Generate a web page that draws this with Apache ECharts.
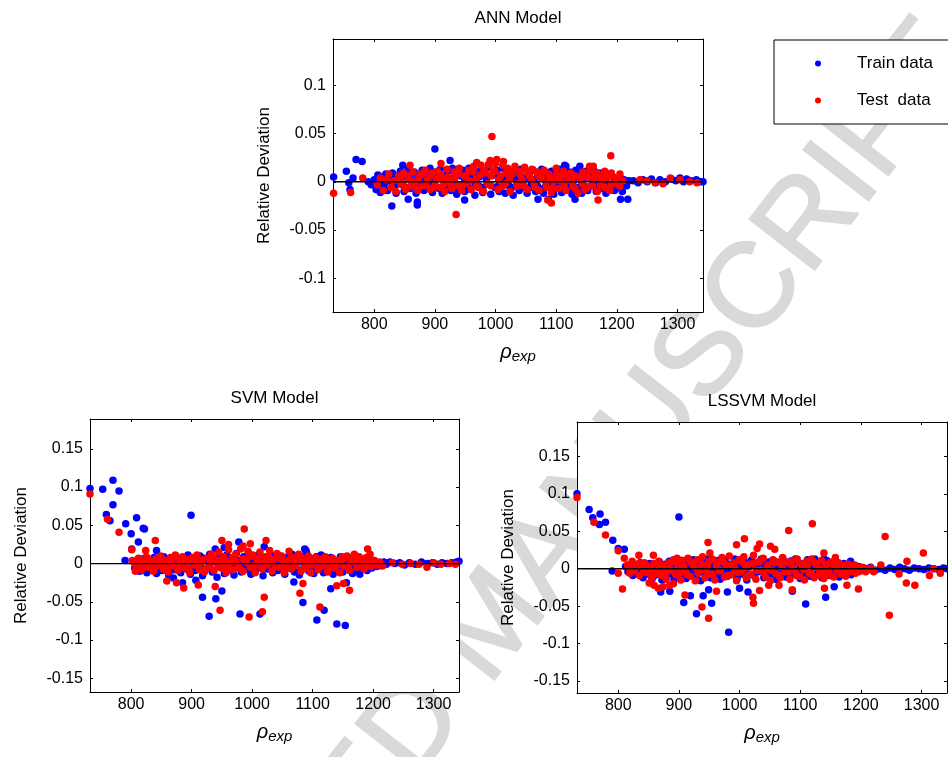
<!DOCTYPE html>
<html><head><meta charset="utf-8">
<script src="https://cdn.jsdelivr.net/npm/echarts@6/dist/echarts.min.js"></script>
<style>html,body{margin:0;padding:0;background:#fff}#c{width:948px;height:757px}</style>
</head><body><div id="c"></div><script>
// ---- data ----
const xTicks=[800,900,1000,1100,1200,1300];
const xRange=[732,1342];
const annYTicks=[-0.1,-0.05,0,0.05,0.1];
const annYRange=[-0.135,0.148];
const svmYTicks=[-0.15,-0.1,-0.05,0,0.05,0.1,0.15];
const svmYRange=[-0.168,0.189];
const lssvmYTicks=[-0.15,-0.1,-0.05,0,0.05,0.1,0.15];
const lssvmYRange=[-0.166,0.196];
const panelTitles=['ANN Model','SVM Model','LSSVM Model'];
const seriesNames=['Train data','Test  data'];

const annTrain=[[733,0.005],[754,0.011],[758,-0.001],[760,-0.008],[765,0.004],[770,0.023],[780,0.021],[790,0],[795,-0.003],[829,-0.025],[847,0.017],[856,-0.018],[871,-0.021],[871,-0.024],[900,0.034],[925,0.022],[949,-0.019],[1070,-0.018],[1087,-0.018],[1114,0.017],[1131,-0.018],[1139,0.016],[1206,-0.018],[1218,-0.018],
[800,0.002],[803,-0.008],[806,0.007],[810,-0.011],[812,0.003],[816,-0.004],[819,0.008],[822,-0.009],[826,0.001],[830,0.009],[833,-0.006],[836,-0.012],[840,0.004],[843,0.011],[846,-0.003],[849,-0.01],[853,0.006],[856,0.013],[859,-0.007],[862,0.001],[866,0.01],[869,-0.012],[872,0.004],[876,-0.005],[879,0.012],[882,-0.009],[886,0.007],[889,-0.002],[892,0.014],[896,-0.011],[899,0.003],[902,0.01],[906,-0.006],[909,0.013],[912,-0.012],[916,0.005],[919,-0.003],[922,0.011],[926,-0.009],[929,0.014],[932,0.001],[936,-0.013],[939,0.008],[942,-0.005],[946,0.012],[949,-0.01],[952,0.004],[956,0.014],[959,-0.008],[962,0.002],[966,-0.014],[969,0.01],[972,-0.004],[976,0.013],[979,-0.011],[982,0.006],[986,-0.002],[989,0.015],[992,-0.013],[996,0.008],[999,-0.006],[1002,0.012],[1006,-0.01],[1009,0.003],[1012,0.014],[1016,-0.012],[1019,0.006],[1022,-0.004],[1026,0.011],[1029,-0.014],[1032,0.009],[1036,0.001],[1039,-0.009],[1042,0.013],[1046,-0.006],[1049,0.004],[1052,-0.012],[1056,0.01],[1059,-0.002],[1062,0.012],[1066,-0.01],[1069,0.005],[1072,-0.007],[1076,0.013],[1079,-0.012],[1082,0.002],[1086,0.009],[1089,-0.005],[1092,0.011],[1096,-0.013],[1099,0.006],[1102,-0.003],[1106,0.013],[1109,-0.011],[1112,0.004],[1116,0.016],[1119,-0.008],[1122,0.01],[1126,-0.013],[1129,0.001],[1132,0.012],[1136,-0.006],[1139,0.008],[1142,-0.012],[1146,0.003],[1149,0.011],[1152,-0.009],[1156,0.006],[1159,-0.004],[1162,0.012],[1166,-0.01],[1169,0.002],[1172,0.009],[1176,-0.007],[1179,0.005],[1182,-0.012],[1186,0.008],[1189,-0.003],[1192,0.006],[1196,-0.009],[1199,0.003],[1202,-0.006],[1206,0.004],[1209,-0.01],[1212,0.002],[1216,-0.004],[1220,0.001],
[805,-0.004],[811,0.005],[817,-0.001],[823,0.004],[829,-0.005],[835,0.006],[841,-0.002],[847,0.005],[853,-0.006],[859,0.004],[865,-0.003],[871,0.007],[877,0.001],[883,-0.005],[889,0.006],[895,-0.003],[901,0.005],[907,-0.007],[913,0.002],[919,0.007],[925,-0.004],[931,0.004],[937,-0.006],[943,0.006],[949,0.001],[955,-0.005],[961,0.007],[967,-0.002],[973,0.005],[979,-0.006],[985,0.003],[991,-0.003],[997,0.007],[1003,-0.005],[1009,0.005],[1015,-0.001],[1021,0.006],[1027,-0.006],[1033,0.003],[1039,0.007],[1045,-0.003],[1051,0.005],[1057,-0.006],[1063,0.002],[1069,-0.004],[1075,0.006],[1081,-0.006],[1087,0.004],[1093,-0.002],[1099,0.007],[1105,-0.005],[1111,0.003],[1117,-0.004],[1123,0.006],[1129,-0.006],[1135,0.004],[1141,0.001],[1147,-0.005],[1153,0.006],[1159,0.002],[1165,-0.004],[1171,0.005],[1177,-0.002],[1183,0.003],[1189,-0.005],[1195,0.004],[1201,-0.002],[1207,0.003],[1213,-0.002],
[1227,0.001],[1235,-0.001],[1243,0.002],[1250,0],[1257,0.003],[1264,-0.001],[1271,0.002],[1280,0],[1290,0.003],[1297,0.001],[1304,0.004],[1310,0],[1315,0.003],[1322,0.001],[1331,0.002],[1338,0],[1342,0]];

const annTest=[[733,-0.012],[761,-0.011],[781,0.004],[859,0.017],[910,0.019],[935,-0.034],[969,0.02],[991,0.022],[994,0.047],[1002,0.023],[1013,0.021],[1086,-0.019],[1092,-0.022],[1155,0.016],[1161,0.016],[1169,-0.019],[1180,0.011],[1190,0.027],[1191,0.009],[1205,0.008],
[805,-0.003],[810,0.004],[815,-0.009],[820,0.002],[824,0.008],[828,-0.006],[832,0.001],[836,-0.01],[840,0.006],[844,-0.002],[848,0.009],[852,-0.008],[856,0.003],[860,-0.005],[864,0.01],[868,-0.001],[872,-0.009],[876,0.007],[880,-0.004],[884,0.012],[888,0.002],[892,-0.008],[896,0.009],[900,-0.003],[904,0.011],[908,-0.006],[912,0.004],[916,-0.01],[920,0.013],[924,0.001],[928,-0.007],[932,0.01],[936,-0.004],[940,0.014],[944,-0.009],[948,0.006],[952,-0.002],[956,0.012],[960,-0.008],[964,0.016],[968,0.003],[972,-0.006],[976,0.017],[980,-0.01],[984,0.009],[988,0.018],[992,-0.004],[996,0.012],[1000,0.019],[1004,-0.008],[1008,0.006],[1012,0.017],[1016,-0.002],[1020,0.014],[1024,-0.01],[1028,0.008],[1032,0.016],[1036,-0.005],[1040,0.011],[1044,0.002],[1048,0.015],[1052,-0.008],[1056,0.006],[1060,0.013],[1064,-0.003],[1068,0.01],[1072,-0.009],[1076,0.004],[1080,0.012],[1084,-0.006],[1088,0.008],[1092,-0.011],[1096,0.001],[1100,0.014],[1104,-0.007],[1108,0.005],[1112,0.011],[1116,-0.009],[1120,0.002],[1124,0.009],[1128,-0.005],[1132,0.006],[1136,-0.012],[1140,0.003],[1144,0.01],[1148,-0.008],[1152,0.005],[1156,0.012],[1160,-0.004],[1164,0.008],[1168,-0.01],[1172,0.002],[1176,0.007],[1180,-0.006],[1184,0.004],[1188,-0.009],[1192,0.006],[1196,-0.002],[1200,0.003],[1205,-0.005],[1210,0.001],
[843,0.003],[849,-0.004],[855,0.006],[861,0.001],[867,-0.005],[873,0.004],[879,0.008],[885,-0.003],[891,0.005],[897,-0.006],[903,0.003],[909,0.008],[915,-0.002],[921,0.005],[927,-0.005],[933,0.004],[939,0.009],[945,-0.003],[951,0.006],[957,0.001],[963,0.01],[969,-0.004],[975,0.007],[981,0.012],[987,-0.002],[993,0.006],[999,0.011],[1005,0.002],[1011,-0.005],[1017,0.009],[1023,0.003],[1029,0.011],[1035,-0.002],[1041,0.007],[1047,-0.004],[1053,0.009],[1059,0.003],[1065,-0.006],[1071,0.006],[1077,0.01],[1083,-0.002],[1089,0.004],[1095,-0.006],[1101,0.007],[1107,0.001],[1113,-0.004],[1119,0.006],[1125,0.001],[1131,-0.007],[1137,0.005],[1143,-0.002],[1149,0.006],[1155,-0.005],[1161,0.004],[1167,0.009],[1173,-0.003],[1179,0.003],[1185,0.007],[1191,-0.003],[1197,0.004],
[1238,0.002],[1250,0.001],[1263,-0.001],[1276,-0.002],[1288,0.004],[1304,0.002],[1320,0],[1332,-0.001]];

const svmTrain=[[732,0.098],[753,0.097],[770,0.109],[780,0.095],[759,0.064],[770,0.077],[765,0.056],[791,0.052],[800,0.039],[809,0.06],[812,0.028],[820,0.046],[822,0.045],[801,0.019],[790,0.004],[899,0.063],[918,-0.044],[929,-0.069],[940,-0.046],[950,-0.036],[980,-0.066],[1013,-0.066],[1084,-0.051],[1107,-0.074],[1119,-0.061],[1140,-0.079],[1154,-0.081],[1130,-0.033],[1069,-0.024],[907,-0.022],[885,-0.025],[870,-0.019],[978,0.028],[1020,0.022],[1087,0.019],[1089,0.017],[939,0.019],[954,0.021],[914,0.01],[842,0.017],[1156,-0.025],[1178,-0.014],
[806,-0.006],[810,0.003],[814,-0.01],[818,0.006],[822,-0.002],[826,-0.012],[830,0.004],[834,-0.007],[838,0.008],[842,-0.013],[846,0.001],[850,-0.009],[854,0.009],[858,-0.004],[862,-0.015],[866,0.005],[870,-0.008],[874,0.01],[878,-0.002],[882,-0.012],[886,0.006],[890,-0.006],[894,0.011],[898,-0.014],[902,0.002],[906,-0.009],[910,0.008],[914,-0.003],[918,-0.016],[922,0.007],[926,-0.006],[930,0.012],[934,-0.011],[938,0.003],[942,-0.018],[946,0.009],[950,-0.004],[954,-0.013],[958,0.011],[962,-0.008],[966,0.004],[970,-0.015],[974,0.013],[978,-0.002],[982,-0.011],[986,0.009],[990,-0.006],[994,0.014],[998,-0.014],[1002,0.003],[1006,-0.009],[1010,0.011],[1014,-0.003],[1018,-0.016],[1022,0.007],[1026,-0.007],[1030,0.012],[1034,-0.012],[1038,0.002],[1042,-0.009],[1046,0.01],[1050,-0.004],[1054,-0.014],[1058,0.008],[1062,-0.006],[1066,0.012],[1070,-0.011],[1074,0.004],[1078,-0.015],[1082,0.009],[1086,-0.002],[1090,0.014],[1094,-0.01],[1098,0.005],[1102,-0.013],[1106,0.009],[1110,-0.005],[1114,0.011],[1118,-0.012],[1122,0.003],[1126,-0.008],[1130,0.008],[1134,-0.014],[1138,0.002],[1142,-0.007],[1146,0.009],[1150,-0.011],[1154,0.004],[1158,-0.005],[1162,0.007],[1166,-0.013],[1170,0.002],[1174,-0.008],[1178,0.006],[1182,-0.004],[1186,0.005],[1190,-0.009],[1194,0.002],[1198,-0.006],[1202,0.004],[1206,-0.004],[1210,0.001],[1214,-0.003],[1218,0.002],[1222,-0.001],
[810,-0.003],[816,0.002],[822,-0.007],[828,0.003],[834,-0.002],[840,0.004],[846,-0.006],[852,0.002],[858,-0.009],[864,0.004],[870,-0.003],[876,0.003],[882,-0.006],[888,0.001],[894,-0.008],[900,0.005],[906,-0.003],[912,0.002],[918,-0.007],[924,0.004],[930,-0.002],[936,-0.009],[942,0.005],[948,-0.005],[954,0.003],[960,-0.008],[966,0.006],[972,-0.002],[978,0.004],[984,-0.006],[990,0.003],[996,-0.009],[1002,0.006],[1008,-0.003],[1014,0.004],[1020,-0.007],[1026,0.002],[1032,-0.004],[1038,0.006],[1044,-0.008],[1050,0.003],[1056,-0.002],[1062,0.005],[1068,-0.006],[1074,0.002],[1080,-0.009],[1086,0.004],[1092,-0.003],[1098,0.006],[1104,-0.007],[1110,0.002],[1116,-0.004],[1122,0.006],[1128,-0.008],[1134,0.003],[1140,-0.002],[1146,0.004],[1152,-0.006],[1158,0.002],[1164,-0.004],[1170,0.005],[1176,-0.005],[1182,0.002],[1188,-0.003],[1194,0.004],[1200,-0.002],[1206,0.001],[1212,-0.002],
[1228,0.002],[1236,0],[1244,0.001],[1252,-0.002],[1260,0.001],[1270,-0.001],[1280,0.002],[1290,0],[1298,0.001],[1306,-0.001],[1314,0.001],[1322,0],[1330,0.001],[1338,0.002],[1342,0.003]];

const svmTest=[[732,0.091],[761,0.058],[780,0.041],[801,0.018],[807,-0.01],[824,0.017],[840,0.03],[859,-0.023],[875,-0.025],[887,-0.032],[911,-0.028],[939,-0.03],[947,-0.061],[995,-0.07],[1017,-0.063],[1020,-0.044],[1079,-0.039],[1084,-0.026],[1112,-0.057],[1140,-0.029],[1151,-0.026],[1161,-0.035],[987,0.045],[950,0.03],[997,0.026],[1023,0.03],[961,0.025],[985,0.023],[1191,0.019],[1195,0.012],
[802,0.004],[808,-0.004],[812,0.007],[817,-0.008],[821,0.002],[825,0.009],[829,-0.005],[833,0.003],[837,-0.01],[841,0.006],[845,-0.002],[849,0.01],[853,-0.007],[857,0.004],[861,-0.011],[865,0.008],[869,-0.003],[873,0.011],[877,-0.009],[881,0.002],[885,0.009],[889,-0.006],[893,0.005],[897,-0.012],[901,0.008],[905,-0.002],[909,0.011],[913,-0.008],[917,0.004],[921,-0.011],[925,0.007],[929,-0.004],[933,0.012],[937,-0.009],[941,0.003],[945,0.015],[949,-0.006],[953,0.009],[957,-0.012],[961,0.018],[965,0.002],[969,-0.008],[973,0.012],[977,-0.003],[981,0.019],[985,-0.01],[989,0.006],[993,0.016],[997,-0.005],[1001,0.011],[1005,-0.012],[1009,0.004],[1013,0.015],[1017,-0.007],[1021,0.009],[1025,-0.002],[1029,0.017],[1033,-0.01],[1037,0.006],[1041,0.013],[1045,-0.005],[1049,0.01],[1053,-0.012],[1057,0.003],[1061,0.016],[1065,-0.007],[1069,0.008],[1073,-0.003],[1077,0.012],[1081,-0.01],[1085,0.005],[1089,-0.006],[1093,0.01],[1097,-0.012],[1101,0.003],[1105,0.008],[1109,-0.008],[1113,0.005],[1117,-0.003],[1121,0.009],[1125,-0.011],[1129,0.002],[1133,0.007],[1137,-0.006],[1141,0.004],[1145,-0.012],[1149,0.009],[1153,-0.004],[1157,0.01],[1161,-0.009],[1165,0.006],[1169,0.012],[1173,-0.005],[1177,0.009],[1181,0.003],[1185,-0.007],[1189,0.008],[1193,0.001],[1197,-0.004],[1201,0.004],[1206,-0.002],[1211,0.002],[1216,-0.003],
[805,0.001],[811,-0.002],[817,0.004],[823,-0.005],[829,0.006],[835,0.001],[841,-0.004],[847,0.005],[853,0.001],[859,-0.005],[865,0.003],[871,0.007],[877,-0.003],[883,0.005],[889,0.001],[895,-0.006],[901,0.004],[907,0.007],[913,-0.002],[919,0.005],[925,-0.006],[931,0.003],[937,0.008],[943,-0.004],[949,0.005],[955,0.001],[961,-0.005],[967,0.008],[973,0.003],[979,-0.006],[985,0.006],[991,0.001],[997,0.009],[1003,-0.003],[1009,0.006],[1015,-0.005],[1021,0.004],[1027,0.009],[1033,0.001],[1039,-0.004],[1045,0.007],[1051,0.002],[1057,-0.006],[1063,0.006],[1069,-0.002],[1075,0.004],[1081,0.008],[1087,-0.004],[1093,0.003],[1099,-0.002],[1105,0.006],[1111,-0.005],[1117,0.004],[1123,0.001],[1129,-0.006],[1135,0.005],[1141,-0.002],[1147,0.003],[1153,0.007],[1159,-0.003],[1165,0.002],[1171,0.006],[1177,-0.002],[1183,0.005],[1189,-0.003],[1195,0.004],[1203,0.001],[1209,-0.001],
[1232,0.001],[1248,-0.001],[1262,0],[1276,-0.001],[1289,-0.005],[1300,0.001],[1312,-0.001],[1326,0],[1336,-0.001]];

const lssvmTrain=[[732,0.1],[752,0.079],[758,0.068],[770,0.073],[769,0.059],[779,0.062],[791,0.038],[800,0.027],[810,0.026],[790,-0.003],[900,0.069],[908,-0.045],[919,-0.036],[929,-0.06],[940,-0.036],[949,-0.028],[954,-0.046],[982,-0.085],[980,-0.031],[1000,-0.026],[1014,-0.031],[1109,-0.047],[1142,-0.038],[1156,-0.024],[885,-0.03],[870,-0.031],[857,-0.01],[841,-0.012],[1087,-0.03],[1183,0.01],[1139,0.013],
[812,0.003],[816,-0.004],[820,0.006],[824,-0.009],[828,0.002],[832,-0.005],[836,0.008],[840,-0.011],[844,0.001],[848,-0.007],[852,0.007],[856,-0.013],[860,0.003],[864,-0.006],[868,0.009],[872,-0.015],[876,0.002],[880,-0.009],[884,0.01],[888,-0.004],[892,-0.014],[896,0.006],[900,-0.008],[904,0.011],[908,-0.002],[912,-0.013],[916,0.008],[920,-0.006],[924,0.012],[928,-0.011],[932,0.003],[936,-0.016],[940,0.009],[944,-0.004],[948,0.013],[952,-0.012],[956,0.005],[960,-0.008],[964,0.011],[968,-0.014],[972,0.002],[976,0.012],[980,-0.01],[984,0.006],[988,-0.003],[992,0.013],[996,-0.013],[1000,0.004],[1004,-0.007],[1008,0.01],[1012,-0.015],[1016,0.003],[1020,0.012],[1024,-0.009],[1028,0.006],[1032,-0.004],[1036,0.013],[1040,-0.012],[1044,0.002],[1048,0.009],[1052,-0.007],[1056,0.011],[1060,-0.014],[1064,0.004],[1068,-0.006],[1072,0.012],[1076,-0.011],[1080,0.002],[1084,0.01],[1088,-0.008],[1092,0.013],[1096,-0.003],[1100,-0.013],[1104,0.007],[1108,-0.006],[1112,0.012],[1116,-0.01],[1120,0.004],[1124,0.013],[1128,-0.007],[1132,0.008],[1136,-0.012],[1140,0.003],[1144,0.011],[1148,-0.009],[1152,0.005],[1156,-0.004],[1160,0.009],[1164,-0.011],[1168,0.002],[1172,0.007],[1176,-0.006],[1180,0.004],[1184,-0.008],[1188,0.003],[1192,-0.004],[1196,0.002],[1200,-0.002],[1205,0.001],[1210,-0.001],
[818,-0.002],[824,0.003],[830,-0.006],[836,0.002],[842,-0.004],[848,0.005],[854,-0.003],[860,-0.009],[866,0.004],[872,-0.005],[878,0.006],[884,-0.007],[890,0.002],[896,-0.004],[902,0.006],[908,-0.008],[914,0.003],[920,-0.002],[926,0.007],[932,-0.006],[938,0.004],[944,-0.009],[950,0.006],[956,-0.002],[962,0.004],[968,-0.006],[974,0.007],[980,-0.003],[986,0.005],[992,-0.007],[998,0.002],[1004,0.007],[1010,-0.004],[1016,0.005],[1022,-0.008],[1028,0.003],[1034,-0.002],[1040,0.006],[1046,-0.006],[1052,0.004],[1058,-0.003],[1064,0.007],[1070,-0.007],[1076,0.003],[1082,-0.004],[1088,0.006],[1094,-0.008],[1100,0.004],[1106,-0.002],[1112,0.005],[1118,-0.006],[1124,0.003],[1130,-0.003],[1136,0.006],[1142,-0.007],[1148,0.002],[1154,0.006],[1160,-0.004],[1166,0.003],[1172,-0.005],[1178,0.002],[1184,0.004],[1190,-0.002],[1196,0.003],[1202,-0.001],
[1216,0.002],[1224,-0.002],[1232,0],[1240,-0.002],[1248,0.001],[1256,-0.001],[1264,0.002],[1272,0],[1280,-0.002],[1288,0.001],[1296,0],[1304,-0.001],[1312,0.001],[1320,0],[1328,-0.001],[1336,0.001],[1342,0]];

const lssvmTest=[[732,0.095],[760,0.062],[779,0.045],[800,0.024],[800,-0.006],[807,-0.027],[810,0.014],[834,0.018],[858,0.018],[851,-0.019],[859,-0.022],[866,-0.026],[874,-0.024],[885,-0.022],[891,-0.02],[897,0.014],[910,-0.035],[938,-0.051],[949,-0.066],[948,0.035],[951,0.021],[962,-0.03],[995,0.032],[1008,0.04],[1023,-0.046],[1022,-0.038],[1033,-0.029],[1033,0.033],[1029,0.027],[1051,0.03],[1058,0.026],[1048,-0.022],[1065,-0.022],[1081,0.051],[1087,-0.028],[1120,0.06],[1139,0.021],[1158,0.015],[1140,-0.026],[1177,-0.022],[1196,-0.027],[1240,0.043],[1247,-0.062],[1233,0.005],[1263,-0.007],[1276,0.01],[1275,-0.019],[1289,-0.022],[1303,0.021],[1313,-0.009],[1320,0],[1331,-0.006],[1221,-0.004],[1208,-0.004],
[815,0.005],[819,-0.006],[823,0.01],[827,-0.002],[831,0.006],[835,-0.009],[839,0.003],[843,0.008],[847,-0.005],[851,0.002],[855,-0.012],[859,0.007],[863,-0.004],[867,0.01],[871,-0.009],[875,0.004],[879,-0.014],[883,0.008],[887,-0.002],[891,0.012],[895,-0.008],[899,0.004],[903,-0.015],[907,0.011],[911,-0.004],[915,0.014],[919,-0.01],[923,0.006],[927,-0.016],[931,0.012],[935,-0.002],[939,0.016],[943,-0.012],[947,0.005],[951,-0.007],[955,0.013],[959,-0.015],[963,0.009],[967,-0.003],[971,0.015],[975,-0.011],[979,0.004],[983,0.017],[987,-0.008],[991,0.008],[995,-0.016],[999,0.012],[1003,-0.004],[1007,0.016],[1011,-0.012],[1015,0.006],[1019,-0.007],[1023,0.018],[1027,-0.014],[1031,0.009],[1035,-0.002],[1039,0.014],[1043,-0.011],[1047,0.005],[1051,-0.016],[1055,0.012],[1059,-0.006],[1063,0.009],[1067,-0.012],[1071,0.015],[1075,-0.004],[1079,0.008],[1083,-0.014],[1087,0.011],[1091,-0.003],[1095,0.013],[1099,-0.01],[1103,0.005],[1107,-0.015],[1111,0.01],[1115,-0.006],[1119,0.013],[1123,-0.012],[1127,0.004],[1131,-0.008],[1135,0.011],[1139,-0.013],[1143,0.006],[1147,-0.004],[1151,0.009],[1155,-0.011],[1159,0.003],[1163,0.008],[1167,-0.007],[1171,0.005],[1175,-0.01],[1179,0.006],[1183,-0.004],[1187,0.004],[1191,-0.006],[1195,0.002],[1199,-0.003],[1204,0.001],[1210,-0.002],[1216,0.001],[1222,-0.002],
[818,0.001],[824,-0.003],[830,0.003],[836,0.007],[842,-0.004],[848,0.004],[854,-0.001],[860,-0.007],[866,0.005],[872,0.001],[878,-0.005],[884,0.006],[890,-0.003],[896,0.008],[902,-0.005],[908,0.003],[914,-0.008],[920,0.009],[926,0.002],[932,-0.006],[938,0.006],[944,-0.003],[950,0.01],[956,-0.007],[962,0.004],[968,-0.002],[974,0.008],[980,-0.009],[986,0.005],[992,0.001],[998,-0.005],[1004,0.009],[1010,0.002],[1016,-0.008],[1022,0.007],[1028,-0.002],[1034,0.01],[1040,-0.005],[1046,0.003],[1052,-0.002],[1058,0.008],[1064,-0.008],[1070,0.004],[1076,0.009],[1082,-0.004],[1088,0.002],[1094,-0.009],[1100,0.007],[1106,-0.001],[1112,0.005],[1118,-0.006],[1124,0.008],[1130,0.001],[1136,-0.005],[1142,0.004],[1148,-0.008],[1154,0.006],[1160,-0.002],[1166,0.004],[1172,-0.005],[1178,0.003],[1184,-0.002],[1190,0.005],[1196,-0.004],[1202,0.002],[1208,-0.001]];

// ---- chart ----
const FF='"Liberation Sans", Arial, Helvetica, sans-serif';
const panels=[
  {train:annTrain,test:annTest,yTicks:annYTicks,yRange:annYRange,grid:{left:333,top:39,width:370,height:273}},
  {train:svmTrain,test:svmTest,yTicks:svmYTicks,yRange:svmYRange,grid:{left:90,top:419,width:369,height:273}},
  {train:lssvmTrain,test:lssvmTest,yTicks:lssvmYTicks,yRange:lssvmYRange,grid:{left:577,top:422,width:370,height:271}}
];
const black={color:'#000',width:1};
const plain=v=>String(v);
const grid=[],xAxis=[],yAxis=[],series=[];
panels.forEach((p,i)=>{
  grid.push(Object.assign({show:true,backgroundColor:'#fff',borderWidth:0,containLabel:false},p.grid));
  xAxis.push({gridIndex:i,type:'value',position:'bottom',min:xRange[0],max:xRange[1],
    axisLine:{show:true,onZero:false,lineStyle:black},
    axisTick:{show:true,inside:true,length:3,customValues:xTicks,lineStyle:black},
    axisLabel:{show:true,customValues:xTicks,formatter:plain,margin:5,fontSize:16,color:'#000',fontFamily:FF},
    splitLine:{show:false},
    name:'{r|ρ}{s|exp}',nameLocation:'middle',nameGap:30,
    nameTextStyle:{rich:{r:{fontSize:20,fontStyle:'italic',fontFamily:FF,color:'#000',verticalAlign:'top',lineHeight:20},
                         s:{fontSize:15,fontStyle:'italic',fontFamily:FF,color:'#000',lineHeight:15,padding:[10,0,0,0]}}}});
  xAxis.push({gridIndex:i,type:'value',position:'top',min:xRange[0],max:xRange[1],
    axisLine:{show:true,onZero:false,lineStyle:black},
    axisTick:{show:true,inside:true,length:3,customValues:xTicks,lineStyle:black},
    axisLabel:{show:false},splitLine:{show:false},
    name:panelTitles[i],nameLocation:'middle',nameGap:12,
    nameTextStyle:{fontSize:17,color:'#000',fontFamily:FF}});
  yAxis.push({gridIndex:i,type:'value',position:'left',min:p.yRange[0],max:p.yRange[1],
    axisLine:{show:true,onZero:false,lineStyle:black},
    axisTick:{show:true,inside:true,length:3,customValues:p.yTicks,lineStyle:black},
    axisLabel:{show:true,customValues:p.yTicks,formatter:plain,margin:7,fontSize:16,color:'#000',fontFamily:FF},
    splitLine:{show:false},
    name:'Relative Deviation',nameLocation:'middle',nameGap:60,nameRotate:90,
    nameTextStyle:{fontSize:17,color:'#000',fontFamily:FF}});
  yAxis.push({gridIndex:i,type:'value',position:'right',min:p.yRange[0],max:p.yRange[1],
    axisLine:{show:true,onZero:false,lineStyle:black},
    axisTick:{show:true,inside:true,length:3,customValues:p.yTicks,lineStyle:black},
    axisLabel:{show:false},splitLine:{show:false}});
  series.push({type:'scatter',name:seriesNames[0],xAxisIndex:2*i,yAxisIndex:2*i,data:p.train,
    symbol:'circle',symbolSize:7.5,itemStyle:{color:'#0000ff',opacity:1},z:2,silent:true});
  series.push({type:'scatter',name:seriesNames[1],xAxisIndex:2*i,yAxisIndex:2*i,data:p.test,
    symbol:'circle',symbolSize:7.5,itemStyle:{color:'#ff0000',opacity:1},z:3,silent:true});
  series.push({type:'line',name:'zero'+i,xAxisIndex:2*i,yAxisIndex:2*i,data:[[xRange[0],0],[xRange[1],0]],
    symbol:'none',lineStyle:{color:'#000',width:1.3},z:4,silent:true});
});
const chart=echarts.init(document.getElementById('c'),null,{renderer:'canvas'});
chart.setOption({
  animation:false,
  backgroundColor:'#fff',
  textStyle:{fontFamily:FF},
  graphic:[{type:'text',z:-10,x:495,y:625,rotation:52*Math.PI/180,silent:true,
    style:{text:'ACCEPTED MANUSCRIPT',fontSize:120,fontFamily:FF,fill:'#d9d9d9',stroke:'#d9d9d9',lineWidth:2,align:'center',verticalAlign:'middle'}}],
  legend:{data:seriesNames.map(n=>({name:n,icon:'circle'})),orient:'vertical',left:774,top:40,
    itemWidth:6,itemHeight:6,itemGap:20,padding:[15,30,15,41],borderColor:'#000',borderWidth:1,
    backgroundColor:'#fff',selectedMode:false,
    textStyle:{fontSize:17,color:'#000',fontFamily:FF,padding:[0,0,0,31]}},
  grid,xAxis,yAxis,series
});
</script></body></html>
